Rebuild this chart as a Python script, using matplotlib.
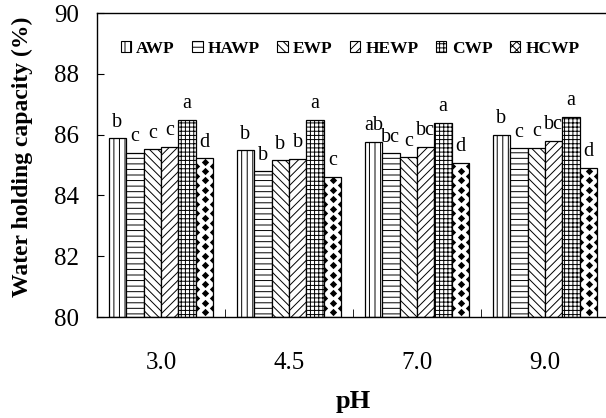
import numpy as np
import matplotlib
matplotlib.use("Agg")
import matplotlib.pyplot as plt
from matplotlib.patches import Patch

plt.rcParams['font.family'] = ['Liberation Serif', 'DejaVu Serif']
plt.rcParams['hatch.linewidth'] = 0.7

# data
ph_labels = ["3.0", "4.5", "7.0", "9.0"]
series = ["AWP", "HAWP", "EWP", "HEWP", "CWP", "HCWP"]
AWP = [85.88, 85.49, 85.77, 85.99]
HAWP = [85.40, 84.80, 85.38, 85.55]
EWP = [85.52, 85.16, 85.25, 85.57]
HEWP = [85.60, 85.20, 85.60, 85.79]
CWP = [86.48, 86.48, 86.39, 86.59]
HCWP = [85.22, 84.62, 85.08, 84.91]
values = [AWP, HAWP, EWP, HEWP, CWP, HCWP]

letters = [
    ["b", "b", "ab", "b"],      # AWP
    ["c", "b", "bc", "c"],      # HAWP
    ["c", "b", "c", "c"],       # EWP
    ["c", "b", "bc", "bc"],     # HEWP
    ["a", "a", "a", "a"],       # CWP
    ["d", "c", "d", "d"],       # HCWP
]

hatches = ["|||", "---", "\\\\\\\\", "////", "++++", ""]

fig = plt.figure(figsize=(6.06, 4.18), dpi=100)
ax = fig.add_axes([97 / 606, 101 / 418, 512 / 606, 304 / 418])

x = np.arange(len(ph_labels))
w = 0.136
bottom = 80

for i, (name, vals) in enumerate(zip(series, values)):
    pos = x + (i - 2.5) * w
    bars = ax.bar(pos, np.array(vals) - bottom, w, bottom=bottom,
                  color="white", edgecolor="black", linewidth=0.9,
                  hatch=hatches[i])
    for b, v, lab in zip(bars, vals, letters[i]):
        ax.text(b.get_x() + b.get_width() / 2, v + 0.38, lab,
                ha="center", va="baseline", fontsize=14.5)
    if name == "HCWP":
        # black diamond fill, laid out on the bar geometry
        for b in bars:
            x0, bw = b.get_x(), b.get_width()
            top = b.get_y() + b.get_height()
            dy = 0.155
            ys = np.arange(bottom + dy, top, dy)
            px, py = [], []
            for k, yy in enumerate(ys):
                xs = [x0 + bw / 2] if k % 2 == 0 else [x0, x0 + bw]
                px += xs
                py += [yy] * len(xs)
            sc = ax.scatter(px, py, marker="D", s=14, color="black",
                            linewidths=0, zorder=3)
            sc.set_clip_path(b)

ax.set_xlim(-0.5, 3.5)
ax.set_ylim(80, 90)
ax.set_yticks(np.arange(80, 91, 2))
ax.set_xticks(x)
ax.set_xticklabels(ph_labels)
ax.set_xticks(x[:-1] + 0.5, minor=True)
ax.tick_params(axis="y", direction="in", length=5, width=0.8, labelsize=18, pad=13)
ax.tick_params(axis="x", which="major", length=0, labelsize=18, pad=25)
ax.tick_params(axis="x", which="minor", direction="in", length=6, width=0.6)

for s in ax.spines.values():
    s.set_linewidth(1.0)

ax.set_xlabel("pH", fontsize=19, fontweight="bold", labelpad=12)
fig.text(22 / 606, 1 - 157 / 418, "Water holding capacity (%)", rotation=90,
         ha="center", va="center", fontsize=17, fontweight="bold")

legend_hatches = ["|||", "---", "\\\\\\\\", "////", "++++", "xxxx"]
handles = [Patch(facecolor="white", edgecolor="black", hatch=h, linewidth=0.8)
           for h in legend_hatches]
fig.legend(handles, series, loc="center", bbox_to_anchor=(350 / 606, 1 - 49 / 418),
           ncol=6, frameon=False, handlelength=0.6, handleheight=0.6,
           handletextpad=0.3, columnspacing=1.0,
           prop={"size": 12.5, "weight": "bold"})

fig.savefig("out.png", dpi=100)
